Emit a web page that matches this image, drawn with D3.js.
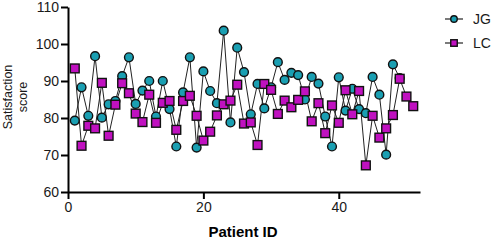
<!DOCTYPE html>
<html>
<head>
<meta charset="utf-8">
<script src="https://cdn.jsdelivr.net/npm/d3@7"></script>
<style>
body { margin: 0; background: #fff; }
text { font-family: "Liberation Sans", Arial, sans-serif; }
</style>
</head>
<body>
<div id="vis"></div>
<script>
// patient scores
var jgIds = d3.range(1, 50);
var jgScores = [79.3, 88.3, 80.6, 96.7, 80.1, 83.7, 84.6, 91.3, 96.4, 83.8,
    87.4, 90.0, 80.4, 90.0, 82.4, 72.3, 86.9, 96.4, 72.0, 92.6,
    87.3, 84.0, 103.6, 78.8, 99.0, 92.4, 81.0, 89.2, 82.6, 88.3,
    95.1, 90.3, 92.2, 91.6, 85.0, 91.1, 89.3, 80.4, 72.3, 91.0,
    82.0, 87.9, 82.4, 81.3, 91.1, 86.3, 70.1, 94.5, 90.8];
var lcIds = d3.range(1, 52);
var lcScores = [93.4, 72.5, 77.9, 77.2, 89.5, 75.2, 83.6, 89.4, 86.7, 81.2,
    78.9, 86.3, 78.7, 84.1, 84.6, 76.8, 84.6, 86.0, 80.6, 73.9,
    76.3, 80.7, 83.7, 84.7, 89.0, 78.5, 78.8, 72.7, 89.2, 87.6,
    81.1, 84.7, 82.9, 84.9, 87.2, 79.1, 84.0, 75.9, 83.4, 78.7,
    87.5, 81.0, 87.3, 67.2, 80.6, 74.7, 77.2, 80.8, 90.6, 85.8, 83.2];
var xTicks = [0, 20, 40];
var yTicks = [60, 70, 80, 90, 100, 110];

var width = 497, height = 240;
var margin = {left: 68, top: 7, right: 77, bottom: 48};

var svg = d3.select('#vis')
    .append('svg')
        .attr('width', width)
        .attr('height', height);

var x_scale = d3.scaleLinear()
    .domain([0, 52])
    .range([margin.left, width - margin.right]);

var y_scale = d3.scaleLinear()
    .domain([60, 110])
    .range([height - margin.bottom, margin.top]);

var series = [
    {name: 'JG', ids: jgIds, vals: jgScores, shape: 'circle', fill: '#1a9fb2'},
    {name: 'LC', ids: lcIds, vals: lcScores, shape: 'square', fill: '#c011c0'}
];

// axes
var xAxis = svg.append('g')
    .attr('transform', 'translate(0,' + y_scale(60) + ')')
    .call(d3.axisBottom(x_scale).tickValues(xTicks).tickSize(7).tickPadding(3).tickSizeOuter(0));

var yAxis = svg.append('g')
    .attr('transform', 'translate(' + x_scale(0) + ',0)')
    .call(d3.axisLeft(y_scale).tickValues(yTicks).tickSize(7).tickPadding(2).tickSizeOuter(0));

[xAxis, yAxis].forEach(function(ax){
    ax.select('.domain').attr('stroke', '#000').attr('stroke-width', 2);
    ax.selectAll('.tick line').attr('stroke', '#000').attr('stroke-width', 2);
    ax.selectAll('.tick text')
        .attr('fill', '#1a1a1a')
        .style('font-size', '14px')
        .style('font-family', '"Liberation Sans", Arial, sans-serif');
});

svg.append('text')
    .attr('x', 243)
    .attr('y', 237)
    .attr('text-anchor', 'middle')
    .style('font-size', '15px')
    .style('font-weight', 'bold')
    .text('Patient ID');

var ylab = svg.append('text')
    .attr('transform', 'translate(12,97) rotate(-90)')
    .attr('text-anchor', 'middle')
    .attr('fill', '#1a1a1a')
    .style('font-size', '12.5px');
ylab.append('tspan').attr('x', 0).attr('dy', '0').text('Satisfaction');
ylab.append('tspan').attr('x', 0).attr('dy', '15').text('score');

function drawMarker(g, s, cx, cy, size)
{
    if(s.shape == 'circle')
    {
        g.append('circle')
            .attr('cx', cx).attr('cy', cy).attr('r', size / 2)
            .attr('fill', s.fill).attr('stroke', '#111').attr('stroke-width', 1.4);
    }
    else
    {
        g.append('rect')
            .attr('x', cx - size / 2).attr('y', cy - size / 2)
            .attr('width', size).attr('height', size)
            .attr('fill', s.fill).attr('stroke', '#111').attr('stroke-width', 1.4);
    }
}

var line = d3.line()
    .x(function(d){ return x_scale(d[0]); })
    .y(function(d){ return y_scale(d[1]); });

series.forEach(function(s){
    var pts = s.ids.map(function(id, i){ return [id, s.vals[i]]; });
    svg.append('path')
        .datum(pts)
        .attr('d', line)
        .attr('fill', 'none')
        .attr('stroke', '#222')
        .attr('stroke-width', 1);
});

series.forEach(function(s){
    var g = svg.append('g');
    s.ids.forEach(function(id, i){
        drawMarker(g, s, x_scale(id), y_scale(s.vals[i]), 8.8);
    });
});

// legend
series.forEach(function(s, i){
    var ly = 19 + i * 24;
    var g = svg.append('g');
    g.append('line')
        .attr('x1', 445).attr('x2', 463)
        .attr('y1', ly).attr('y2', ly)
        .attr('stroke', '#222').attr('stroke-width', 1.2);
    drawMarker(g, s, 454, ly, 6.5);
    g.append('text')
        .attr('x', 473)
        .attr('y', ly + 5)
        .attr('fill', '#1a1a1a')
        .style('font-size', '14px')
        .text(s.name);
});
</script>
</body>
</html>
